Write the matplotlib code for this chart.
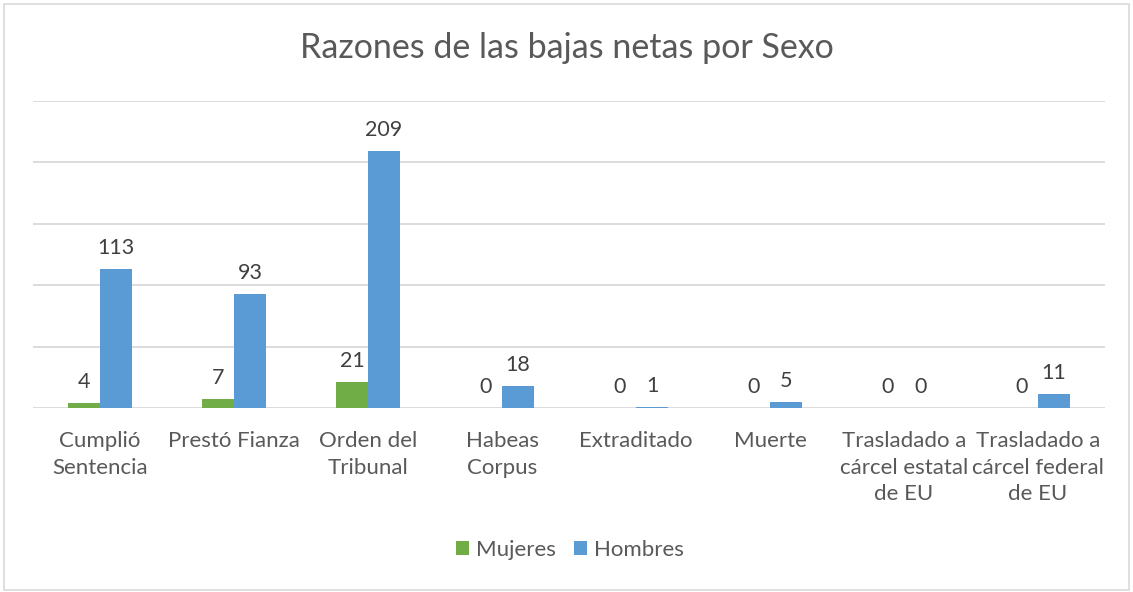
import matplotlib
matplotlib.use("Agg")
from matplotlib import pyplot as plt
from matplotlib.patches import Rectangle
import numpy as np

plt.rcParams['font.family'] = ['Lato', 'DejaVu Sans']

categorias = ["Cumplió\nSentencia", "Prestó Fianza", "Orden del\nTribunal", "Habeas\nCorpus",
              "Extraditado", "Muerte", "Trasladado a\ncárcel estatal\nde EU",
              "Trasladado a\ncárcel federal\nde EU"]
mujeres = [4, 7, 21, 0, 0, 0, 0, 0]
hombres = [113, 93, 209, 18, 1, 5, 0, 11]

verde = "#70AD47"
azul = "#5B9BD5"
gris_txt = "#595959"

fig = plt.figure(figsize=(11.33, 5.92), dpi=100)
ax = fig.add_axes([33/1133, 1-408/592, (1105-33)/1133, (408-101)/592])

x = np.arange(len(categorias))
ancho = 0.24
b1 = ax.bar(x - ancho/2, mujeres, ancho, color=verde, label="Mujeres", zorder=3)
b2 = ax.bar(x + ancho/2, hombres, ancho, color=azul, label="Hombres", zorder=3)

for barras in (b1, b2):
    for r in barras:
        ax.annotate(str(int(r.get_height())), (r.get_x() + r.get_width()/2, r.get_height()),
                    xytext=(0, 8), textcoords="offset points", ha="center", va="bottom",
                    fontsize=15.5, color="#404040")

ax.set_xlim(-0.5, len(categorias) - 0.5)
ax.set_ylim(0, 250)
ax.set_yticks(np.arange(0, 251, 50))
ax.yaxis.grid(True, color="#D9D9D9", linewidth=1.3, zorder=0)
ax.tick_params(axis="y", left=False, labelleft=False)
ax.tick_params(axis="x", bottom=False, pad=13)
ax.set_xticks(x)
ax.set_xticklabels(categorias, fontsize=16, color=gris_txt, linespacing=1.42)
for s in ax.spines.values():
    s.set_visible(False)

fig.text(0.5, 1-48/592, "Razones de las bajas netas por Sexo", ha="center", va="center",
         fontsize=24.5, color=gris_txt)

fig.legend(handles=[b1, b2], loc="center", bbox_to_anchor=(0.503, 1-550/592), ncol=2,
           frameon=False, fontsize=16, handlelength=0.6, handleheight=0.6,
           handletextpad=0.3, columnspacing=0.8, labelcolor=gris_txt)

fig.patches.append(Rectangle((4/1133, 2/592), 1-8/1133, 1-6/592, transform=fig.transFigure,
                             fill=False, edgecolor="#D9D9D9", linewidth=1.2))

fig.savefig("out.png", dpi=100)
